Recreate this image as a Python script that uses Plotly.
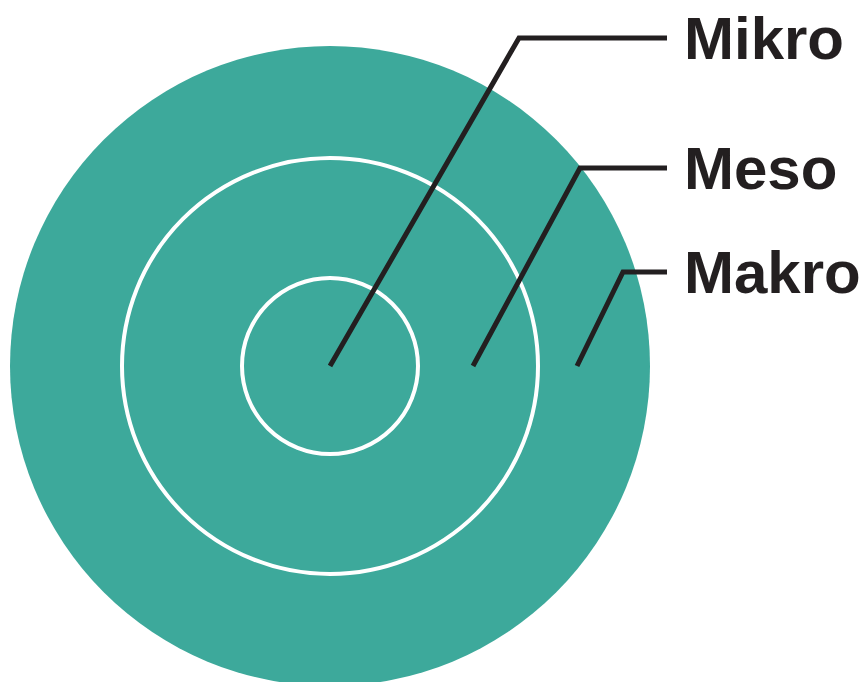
import plotly.graph_objects as go

# Diagram data
levels = ["Mikro", "Meso", "Makro"]
center = (330, 366)
ring_radii = [88, 208]          # white ring radii (inner, middle)
outer_radius = 320              # filled disc
# leader lines: start point (inside disc), elbow, end of horizontal
leader_start_x = [330, 473, 577]
leader_start_y = [366, 366, 366]
leader_elbow_x = [519, 580, 623]
leader_elbow_y = [38, 168, 272]
leader_end_x = [667, 667, 667]
label_x = 683

W, H = 864, 682
teal = "#3DA99B"
ink = "#231F20"

fig = go.Figure()

shapes = [dict(type="circle", xref="x", yref="y",
               x0=center[0] - outer_radius, x1=center[0] + outer_radius,
               y0=center[1] - outer_radius, y1=center[1] + outer_radius,
               fillcolor=teal, line=dict(width=0), layer="below")]
for r in ring_radii:
    shapes.append(dict(type="circle", xref="x", yref="y",
                       x0=center[0] - r, x1=center[0] + r,
                       y0=center[1] - r, y1=center[1] + r,
                       fillcolor="rgba(0,0,0,0)", line=dict(color="white", width=4),
                       layer="below"))

for i, name in enumerate(levels):
    fig.add_trace(go.Scatter(
        x=[leader_start_x[i], leader_elbow_x[i], leader_end_x[i]],
        y=[leader_start_y[i], leader_elbow_y[i], leader_elbow_y[i]],
        mode="lines", line=dict(color=ink, width=5), hoverinfo="skip",
        showlegend=False))

annotations = []
for i, name in enumerate(levels):
    annotations.append(dict(x=label_x, y=leader_elbow_y[i], xref="x", yref="y",
                            text="<b>" + name + "</b>", showarrow=False,
                            xanchor="left", yanchor="middle",
                            font=dict(family="Liberation Sans, Arial, sans-serif",
                                      size=60, color=ink),
                            borderpad=0))

fig.update_layout(
    width=W, height=H,
    margin=dict(l=0, r=0, t=0, b=0),
    paper_bgcolor="white", plot_bgcolor="white",
    xaxis=dict(range=[0, W], visible=False, fixedrange=True),
    yaxis=dict(range=[H, 0], visible=False, fixedrange=True),
    shapes=shapes, annotations=annotations,
    showlegend=False,
)

fig.write_html("out.html", config={"displayModeBar": False},
               post_script="document.body.style.margin='0';document.body.style.overflow='hidden';")
